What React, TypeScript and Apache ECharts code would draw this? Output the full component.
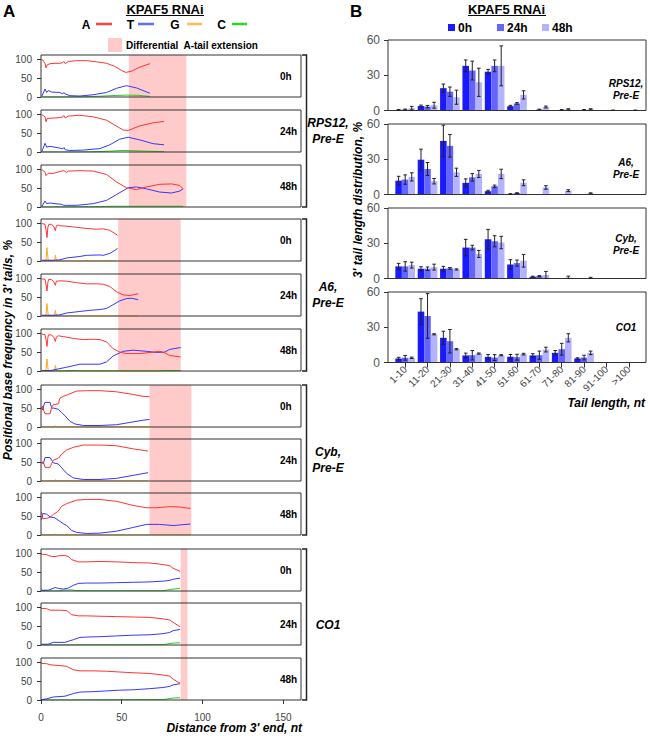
import React, { useEffect, useRef } from 'react';
import * as echarts from 'echarts';

const FONT = 'Liberation Sans, Arial, Helvetica, sans-serif';
const COL_A = '#ff3333';
const COL_T = '#3636ff';
const COL_G = '#ffaa22';
const COL_C = '#22cc22';
const PINK = '#ffcaca';
const BAR_COLS = ['#1a1aff', '#6464ff', '#b3b3ff'];

// ---------- Panel A: positional base frequency (x = nt from 3' end, y = %) ----------
const RPS12_0h_A = [[0.5,98],[1,98],[2.5,89],[3.1,77],[3.9,85],[5.6,88],[8.7,89],[11.7,89],[13.4,91],[14.2,94],[15,88],[16.9,94],[22,96],[28.2,96],[34.4,93],[40.6,89],[45.7,81],[49.9,70],[52.5,65],[56,68],[61.2,79],[67.4,88]];
const RPS12_0h_T = [[0.5,2],[2.5,21],[3.5,12],[4.5,17],[6.6,13],[11.7,12],[13.4,8],[14.2,12],[15,8],[17.9,3.5],[24.1,2.6],[32.3,6],[40.6,12],[46.8,23],[52.9,30],[59.1,24],[67.4,10]];
const RPS12_0h_C = [[0.5,0],[15,0],[26,0.5],[36,2],[46,4],[53,5],[60,4.5],[67.4,1.5]];
const RPS12_24h_A = [[0.5,99],[2.5,93],[3.1,80],[3.9,89],[5.6,89],[11.7,91],[13.4,93],[14.2,96],[15,90],[16.9,95],[24.1,97],[32.3,93],[40.6,84],[45.7,71],[50.9,58],[54,57],[61.2,69],[69.4,77],[76.2,81]];
const RPS12_24h_T = [[0.5,1],[2.5,23],[3.5,13],[5.6,15],[11.7,10.4],[13.4,8],[14.2,12],[15,6],[17.9,4],[26.2,5],[36.5,9],[42.6,19],[48.8,34],[54,39],[61.2,32],[69.4,22],[76.2,19]];
const RPS12_24h_C = [[0.5,0],[20,0],[30,0.5],[42,2],[50,4],[57,3.5],[66,2],[76.2,1]];
const RPS12_48h_A = [[0.5,99],[2.5,92],[3.1,83],[4.5,89],[7.6,89],[12.8,95],[14.2,96],[15.9,91],[16.9,95],[24.1,96],[32.3,95],[40.6,86],[46.8,66],[52.9,51],[59.1,46],[65.3,53],[73.5,60],[80.8,61],[85.9,57],[88,48]];
const RPS12_48h_T = [[0.5,1],[2.5,16],[3.5,9],[5.6,10.5],[12.8,7],[14.2,4.4],[15.9,4.4],[22,4.4],[32.3,8.8],[40.6,17.5],[46.8,33],[54,51],[59.1,53],[65.3,48],[73.5,39.5],[80.8,37],[85.9,42],[88,48]];
const RPS12_48h_C = [[0.5,0],[30,0.5],[40,1.5],[46,2],[88,2]];

const A6_0h_A = [[0.5,99],[2.5,97],[3.2,80],[3.7,62],[4.3,90],[4.8,97],[6.6,97],[8,90],[8.9,80],[9.5,93],[10.7,95],[11.7,93],[15.9,92],[22,89],[28.2,86],[34.4,84],[38.5,85],[42.6,81],[45.7,73],[47.4,68]];
const A6_0h_T = [[0.5,2],[7.6,2],[11.7,3],[15.9,8],[24.1,12],[28.2,15],[36.5,16],[38.5,15],[42.6,20],[45.7,28],[47.4,33]];
const A6_0h_G = [[0.5,0],[3,0],[3.7,35],[4.5,0],[8.3,0],[8.9,15],[9.6,0],[47.4,0]];
const A6_24h_A = [[0.5,98],[2.5,97],[3.2,80],[3.7,66],[4.3,90],[4.8,97],[6.6,96],[8,90],[8.9,81],[9.5,92],[11.7,93],[15.9,92],[22,88],[28.2,85],[34.4,85],[38.5,84],[42.6,78],[46.8,64],[50.9,56],[55,54],[60.2,59]];
const A6_24h_T = [[0.5,2],[8,2],[11.7,3],[15.9,8],[24.1,12],[30.3,15],[36.5,17],[40.6,20],[44.7,30],[48.8,40],[52.9,46],[56,47],[60.2,43]];
const A6_24h_G = [[0.5,0],[3,0],[3.7,33],[4.5,0],[8.3,0],[8.9,15],[9.6,0],[60.2,0]];
const A6_48h_A = [[0.5,98],[2.5,96],[3.2,80],[3.7,65],[4.3,90],[4.8,96],[6.6,95],[8,88],[8.9,78],[9.5,90],[10.7,93],[13.8,91],[20,86],[26.2,83],[32.3,84],[36.5,83],[40.6,77],[44.7,59],[48.8,50],[52.9,46],[61.2,46],[69.4,50],[73.5,52],[76.6,48],[79.7,41],[86.5,37]];
const A6_48h_T = [[0.5,1],[5.6,1],[15.9,10],[24.1,18],[32.3,18],[36.5,18],[40.6,24],[44.7,40],[50.9,52],[57.1,55],[65.3,52],[71.4,49],[76.6,50],[79.7,57],[86.5,62]];
const A6_48h_G = [[0.5,0],[3,0],[3.7,32],[4.5,0],[8.3,0],[8.9,15],[9.6,0],[86.5,0]];
const A6_48h_C = [[0.5,0],[15,0],[17,1],[22,1],[24,0],[73,0],[76,1],[86.5,1]];

const CYB_0h_A = [[0.3,47],[1,55],[1.8,42],[2.5,35],[5.6,35],[6.6,52],[7.6,59],[10.7,61],[11.7,76],[13.8,81],[16.9,86],[22,95],[28.2,96],[36.5,96],[46.8,93],[57.1,86],[63.2,81],[67.2,80]];
const CYB_0h_T = [[0.3,52],[1,45],[1.8,58],[2.5,65],[5.6,65],[6.6,50],[7.6,50],[10.7,47],[12.8,38],[14.8,30],[17.9,15],[21,8],[26.2,4],[36.5,4],[46.8,6],[55,12],[63.2,18],[67.2,20]];
const CYB_0h_G = [[0.3,0],[8,0],[9,3],[10,0],[15.4,0],[16.2,2],[17,0],[67.2,0]];
const CYB_24h_A = [[0.3,48],[1.4,51],[2.5,36],[5.6,36],[6.6,46],[7.6,55],[10.7,60],[12.8,71],[15.9,82],[20,89],[26.2,95],[36.5,95],[46.8,93],[57.1,85],[66.3,79]];
const CYB_24h_T = [[0.3,50],[1.4,45],[2.5,62],[5.6,62],[7.6,48],[10.7,45],[12.8,35],[15.9,20],[20,8],[26.2,4],[36.5,4],[46.8,7],[57.1,15],[66.3,22]];
const CYB_24h_G = [[0.3,0],[8,0],[9,3],[10,0],[15.4,0],[16.2,2],[17,0],[66.3,0]];
const CYB_48h_A = [[0.3,60],[1.2,43],[3.5,44],[5.6,47],[7.6,54],[10.7,63],[12.8,76],[15.9,83],[22,92],[28.2,94],[36.5,94],[46.8,89],[57.1,78],[65.3,72],[71.4,72],[79.7,75],[85.9,74],[92.5,70]];
const CYB_48h_T = [[0.3,40],[1.2,57],[3.5,55],[5.6,48],[8.7,45],[11.7,36],[13.8,30],[15.9,25],[19,12],[22,7],[28.2,4],[36.5,5],[46.8,10],[57.1,20],[65.3,28],[73.5,28],[81.8,25],[92.5,29]];
const CYB_48h_G = [[0.3,0],[8,0],[9,2],[10,0],[15.4,0],[16.2,1.5],[17,0],[92.5,0]];

const CO1_0h_A = [[0,98],[3.5,96],[4.5,94],[6.6,91],[8.7,91],[10.7,93],[14.8,94],[16.9,91],[19,83],[23.1,77],[28.2,77],[36.5,78],[46.8,77],[57.1,75],[67.4,74],[75.6,70],[79.7,67],[81.8,60],[86.1,52]];
const CO1_0h_T = [[0,2],[4.5,2],[8.7,9],[10.7,7],[13.8,5],[16.9,8],[20,15],[23.1,20],[28.2,21],[36.5,21],[46.8,22],[57.1,23],[67.4,24],[75.6,26],[79.7,28],[81.8,31],[86.1,34]];
const CO1_0h_C = [[0,0],[11,0],[13.8,2.5],[19,3],[22,1],[30,0.5],[75.6,0.5],[79.7,4],[86.1,7]];
const CO1_24h_A = [[0,97],[3.5,96],[5.6,92],[11.7,92],[15.9,91],[19,80],[23.1,77],[28.2,77],[36.5,76],[46.8,75],[57.1,74],[67.4,73],[75.6,69],[79.7,66],[81.8,60],[86.1,48]];
const CO1_24h_T = [[0,2],[4.5,2],[7.6,7],[14.8,7],[20,14],[24.1,20],[28.2,21],[36.5,22],[46.8,24],[57.1,26],[67.4,27],[75.6,30],[79.7,33],[81.8,38],[86.1,41]];
const CO1_24h_C = [[0,0],[11.7,0],[12,1],[75.6,1],[81.8,5],[86.1,6]];
const CO1_48h_A = [[0,97],[3.5,96],[5.6,93],[11.7,91],[15.9,89],[20,80],[24.1,77],[32.3,77],[40.6,76],[48.8,74],[57.1,72],[67.4,70],[75.6,66],[79.7,63],[81.8,55],[84.9,47],[86.1,45]];
const CO1_48h_T = [[0,1],[3.5,3],[7.6,8],[14.8,10],[20,17],[24.1,21],[32.3,22],[40.6,24],[48.8,26],[57.1,27],[67.4,30],[75.6,33],[79.7,36],[81.8,40],[86.1,43]];
const CO1_48h_C = [[0,0],[11.7,0],[12,1],[75.6,1],[81.8,5],[86.1,6]];

// Differential A-tail extension ranges (nt)
const PINK_RANGES = [[54.4, 90], [47.8, 86.5], [67.2, 93.1], [86.5, 90.7]];

const TIMES = ['0h', '24h', '48h'];
const GENE_LABELS_A = ['RPS12,\nPre-E', 'A6,\nPre-E', 'Cyb,\nPre-E', 'CO1'];

// ---------- Panel B: 3' tail length distribution ----------
const TAIL_CATS = ['1-10', '11-20', '21-30', '31-40', '41-50', '51-60', '61-70', '71-80', '81-90', '91-100', '>100'];
const RPS12_B_0h = [0.5, 3.8, 19, 38, 33, 3.7, 0.3, 0.3, 0.3, 0, 0];
const RPS12_B_0h_err = [0.3, 0.8, 3.5, 5, 2, 0.7, 0, 0, 0, 0, 0];
const RPS12_B_24h = [0.8, 3.3, 16, 34, 38, 6, 0.8, 0.5, 0.5, 0.2, 0];
const RPS12_B_24h_err = [0.4, 1, 4, 8, 5, 0.7, 0.3, 0.3, 0.3, 0, 0];
const RPS12_B_48h = [2, 4.5, 11.3, 24, 38, 13.3, 3, 1, 1, 0.2, 0.2];
const RPS12_B_48h_err = [1.5, 2.5, 6, 12, 17, 3.5, 0.8, 0.5, 0.5, 0.1, 0.1];

const A6_B_0h = [11.8, 29.6, 45.6, 9.9, 2.8, 0.5, 0.2, 0.2, 0.3, 0, 0];
const A6_B_0h_err = [3.7, 9, 13.4, 3.4, 0.8, 0.2, 0, 0, 0, 0, 0];
const A6_B_24h = [12.7, 21.7, 41.4, 14.6, 7, 1.2, 0.3, 0.2, 0.3, 0, 0];
const A6_B_24h_err = [4, 5.5, 9.6, 3.2, 1, 0.3, 0, 0, 0, 0, 0];
const A6_B_48h = [15, 11.3, 18.9, 17.5, 17.5, 10, 6, 3.3, 1, 0.2, 0.2];
const A6_B_48h_err = [3.5, 2.3, 3.5, 3, 4, 2.5, 1.5, 0.8, 0.4, 0, 0];

const CYB_B_0h = [10.3, 8.3, 8.3, 26.3, 33.4, 12, 1.5, 0.2, 0, 0, 0];
const CYB_B_0h_err = [2.6, 1.7, 2, 7, 8.4, 4, 0.5, 0, 0, 0, 0];
const CYB_B_24h = [10.3, 8.3, 8.6, 26.3, 31.7, 13.1, 2, 0.3, 0, 0, 0];
const CYB_B_24h_err = [4, 1.5, 0.7, 2, 4.7, 2.6, 0.5, 0, 0, 0, 0];
const CYB_B_48h = [11.4, 9.7, 7.7, 20.9, 30.6, 15.1, 3, 0.8, 0.5, 0.3, 0.2];
const CYB_B_48h_err = [2.5, 2.5, 0.5, 3, 5.3, 5.4, 3, 1.2, 0.5, 0, 0];

const CO1_B_0h = [3.4, 43.3, 21, 6, 4.8, 4.8, 6, 8.2, 3.4, 0, 0];
const CO1_B_0h_err = [1, 11, 5.6, 2, 2, 2, 1.5, 2, 0.6, 0, 0];
const CO1_B_24h = [4, 39.6, 18.1, 6.2, 4.2, 4.5, 6.2, 11.3, 4.2, 0, 0];
const CO1_B_24h_err = [2, 19, 10, 4, 2.5, 2.5, 3.5, 5, 2, 0, 0];
const CO1_B_48h = [4, 24, 11.3, 7.6, 6.2, 7.1, 11, 21, 8.2, 0, 0];
const CO1_B_48h_err = [0.6, 0.5, 0.5, 0.5, 0.5, 0.7, 2, 3.5, 1.5, 0, 0];

// ---------- layout ----------
const A_LEFT = 41;
const A_W = 260;
const A_H = 42;
const A_XMAX = 161;
const A_TOPS = [55, 110, 165, 219, 274, 329, 385, 439, 493, 549, 603, 658];
const GROUP_SPANS = [[55, 207], [219, 371], [385, 535], [549, 700]];
const B_LEFT = 388;
const B_W = 258;
const B_H = 70.5;
const B_TOPS = [40, 124, 208, 292];
const B_PAD = 6;
const BAR_GAP_FRAC = 0.12;

export default function App() {
  const ref = useRef<HTMLDivElement>(null);

  useEffect(() => {
    if (!ref.current) return;
    const chart = echarts.init(ref.current, undefined, { renderer: 'svg' });

    const aPanels = [
      { A: RPS12_0h_A, T: RPS12_0h_T, G: null, C: RPS12_0h_C },
      { A: RPS12_24h_A, T: RPS12_24h_T, G: null, C: RPS12_24h_C },
      { A: RPS12_48h_A, T: RPS12_48h_T, G: null, C: RPS12_48h_C },
      { A: A6_0h_A, T: A6_0h_T, G: A6_0h_G, C: null },
      { A: A6_24h_A, T: A6_24h_T, G: A6_24h_G, C: null },
      { A: A6_48h_A, T: A6_48h_T, G: A6_48h_G, C: A6_48h_C },
      { A: CYB_0h_A, T: CYB_0h_T, G: CYB_0h_G, C: null },
      { A: CYB_24h_A, T: CYB_24h_T, G: CYB_24h_G, C: null },
      { A: CYB_48h_A, T: CYB_48h_T, G: CYB_48h_G, C: null },
      { A: CO1_0h_A, T: CO1_0h_T, G: null, C: CO1_0h_C },
      { A: CO1_24h_A, T: CO1_24h_T, G: null, C: CO1_24h_C },
      { A: CO1_48h_A, T: CO1_48h_T, G: null, C: CO1_48h_C },
    ];

    const bPanels = [
      { vals: [RPS12_B_0h, RPS12_B_24h, RPS12_B_48h], errs: [RPS12_B_0h_err, RPS12_B_24h_err, RPS12_B_48h_err], label: 'RPS12,\nPre-E', ly: 89.5 },
      { vals: [A6_B_0h, A6_B_24h, A6_B_48h], errs: [A6_B_0h_err, A6_B_24h_err, A6_B_48h_err], label: 'A6,\nPre-E', ly: 168 },
      { vals: [CYB_B_0h, CYB_B_24h, CYB_B_48h], errs: [CYB_B_0h_err, CYB_B_24h_err, CYB_B_48h_err], label: 'Cyb,\nPre-E', ly: 244.5 },
      { vals: [CO1_B_0h, CO1_B_24h, CO1_B_48h], errs: [CO1_B_0h_err, CO1_B_24h_err, CO1_B_48h_err], label: 'CO1', ly: 327 },
    ];

    const grid: any[] = [];
    const xAxis: any[] = [];
    const yAxis: any[] = [];
    const series: any[] = [];
    const elements: any[] = [];

    const txt = (x: number, y: number, text: string, o: any = {}) => ({
      type: 'text', x, y, z: 20, rotation: o.rotation || 0,
      style: {
        text, fill: o.fill || '#000', fontFamily: FONT, fontSize: o.size || 12,
        fontWeight: o.weight || 'bold', fontStyle: o.italic ? 'italic' : 'normal',
        align: o.align || 'left', verticalAlign: o.valign || 'middle', lineHeight: o.lh || 14,
      },
    });

    // ---- Panel A grids ----
    aPanels.forEach((p, i) => {
      const gi = grid.length;
      const bottom = i === aPanels.length - 1;
      grid.push({ left: A_LEFT, top: A_TOPS[i], width: A_W, height: A_H, show: true, borderColor: '#333', borderWidth: 1, z: 3, backgroundColor: 'rgba(0,0,0,0)' });
      xAxis.push({
        type: 'value', gridIndex: gi, min: 0, max: A_XMAX, interval: 50,
        axisLine: { show: false }, splitLine: { show: false },
        axisTick: { show: bottom, length: 4, customValues: [0, 50, 100, 150], lineStyle: { color: '#333' } },
        axisLabel: { show: bottom, customValues: [0, 50, 100, 150], color: '#444', fontSize: 10, margin: 12, fontFamily: FONT,
          formatter: (v: number) => (v % 50 === 0 ? String(v) : '') },
      });
      yAxis.push({
        type: 'value', gridIndex: gi, min: 0, max: 111, interval: 50,
        axisLine: { show: false }, splitLine: { show: false },
        axisTick: { show: true, length: 4, customValues: [0, 50, 100], lineStyle: { color: '#333' } },
        axisLabel: { customValues: [0, 50, 100], color: '#444', fontSize: 10, margin: 9, fontFamily: FONT,
          formatter: (v: number) => (v % 50 === 0 ? String(v) : '') },
      });
      const add = (data: any, color: string) => {
        if (!data) return;
        series.push({ type: 'line', xAxisIndex: gi, yAxisIndex: gi, data, symbol: 'none', showSymbol: false, silent: true, z: 2,
          lineStyle: { width: 1, color }, itemStyle: { color } });
      };
      add(p.G, COL_G);
      add(p.C, COL_C);
      add(p.T, COL_T);
      add(p.A, COL_A);
      elements.push(txt(280, A_TOPS[i] + A_H / 2, TIMES[i % 3], { size: 10 }));
    });

    // ---- Pink overlay grids for A ----
    GROUP_SPANS.forEach((span, g) => {
      const gi = grid.length;
      grid.push({ left: A_LEFT, top: span[0], width: A_W, height: span[1] - span[0], show: false });
      xAxis.push({ type: 'value', gridIndex: gi, min: 0, max: A_XMAX, show: false });
      yAxis.push({ type: 'value', gridIndex: gi, min: 0, max: 1, show: false });
      const r = PINK_RANGES[g];
      series.push({
        type: 'custom', xAxisIndex: gi, yAxisIndex: gi, z: 1, silent: true,
        data: [[r[0], r[1], 0, 1]], encode: { x: [0, 1], y: [2, 3] },
        renderItem: (params: any, api: any) => {
          const p0 = api.coord([api.value(0), api.value(3)]);
          const p1 = api.coord([api.value(1), api.value(2)]);
          return { type: 'rect', shape: { x: p0[0], y: p0[1], width: p1[0] - p0[0], height: p1[1] - p0[1] }, style: { fill: PINK } };
        },
      });
      // bracket and gene label
      elements.push({ type: 'polyline', z: 20, shape: { points: [[302, span[0]], [306.5, span[0]], [306.5, span[1]], [302, span[1]]] }, style: { stroke: '#222', lineWidth: 1.5, fill: null } });
      elements.push(txt(328, (span[0] + span[1]) / 2, GENE_LABELS_A[g], { italic: true, size: 12, align: 'center', lh: 16 }));
    });

    // ---- Panel B ----
    const errRender = (k: number) => (params: any, api: any) => {
      const i = api.value(0), v = api.value(1), e = api.value(2);
      if (!e) return null;
      const band = api.size([1, 0])[0];
      const bw = (band * (1 - BAR_GAP_FRAC)) / 3;
      const x = api.coord([i, v])[0] + (k - 1) * bw;
      const y1 = api.coord([i, v + e])[1];
      const y2 = api.coord([i, Math.max(0, v - e)])[1];
      const style = { stroke: '#222', lineWidth: 1 };
      return {
        type: 'group',
        children: [
          { type: 'line', shape: { x1: x, y1, x2: x, y2 }, style },
          { type: 'line', shape: { x1: x - 1.8, y1, x2: x + 1.8, y2: y1 }, style },
          { type: 'line', shape: { x1: x - 1.8, y1: y2, x2: x + 1.8, y2 }, style },
        ],
      };
    };

    bPanels.forEach((p, b) => {
      const bottom = b === bPanels.length - 1;
      // frame grid
      const fi = grid.length;
      grid.push({ left: B_LEFT, top: B_TOPS[b], width: B_W, height: B_H, show: true, borderColor: '#333', borderWidth: 1, z: 3, backgroundColor: 'rgba(0,0,0,0)' });
      xAxis.push({ type: 'value', gridIndex: fi, min: 0, max: 1, show: false });
      yAxis.push({
        type: 'value', gridIndex: fi, min: 0, max: 60, interval: 30,
        axisLine: { show: false }, splitLine: { show: false },
        axisTick: { show: true, length: 4, lineStyle: { color: '#333' } },
        axisLabel: { color: '#555', fontSize: 12, margin: 8, fontFamily: FONT },
      });
      // data grid
      const di = grid.length;
      grid.push({ left: B_LEFT + B_PAD, top: B_TOPS[b], width: B_W - 2 * B_PAD, height: B_H, show: false });
      xAxis.push({
        type: 'category', gridIndex: di, data: TAIL_CATS, boundaryGap: true,
        axisLine: { show: false }, splitLine: { show: false },
        axisTick: { show: bottom, alignWithLabel: true, length: 5, lineStyle: { color: '#333' } },
        axisLabel: { show: bottom, rotate: 45, interval: 0, fontSize: 10, color: '#444', margin: 5, fontFamily: FONT },
      });
      yAxis.push({ type: 'value', gridIndex: di, min: 0, max: 60, show: false });
      p.vals.forEach((vals, k) => {
        series.push({
          type: 'bar', name: TIMES[k], xAxisIndex: di, yAxisIndex: di, data: vals, silent: true, z: 2,
          itemStyle: { color: BAR_COLS[k] }, barGap: '0%', barCategoryGap: `${BAR_GAP_FRAC * 100}%`,
        });
      });
      p.vals.forEach((vals, k) => {
        series.push({
          type: 'custom', xAxisIndex: di, yAxisIndex: di, z: 4, silent: true,
          data: vals.map((v, i) => [i, v, p.errs[k][i]]), encode: { x: 0, y: 1 },
          renderItem: errRender(k),
        });
      });
      elements.push(txt(626, p.ly, p.label, { italic: true, size: 10, align: 'center', lh: 12 }));
    });

    // ---- Titles, legends, axis titles ----
    elements.push(txt(3, 11, 'A', { size: 17 }));
    elements.push(txt(350, 11, 'B', { size: 17 }));
    elements.push(txt(165, 9.5, 'KPAF5 RNAi', { size: 13, align: 'center' }));
    elements.push({ type: 'line', z: 20, shape: { x1: 126, y1: 15.5, x2: 204, y2: 15.5 }, style: { stroke: '#000', lineWidth: 1 } });
    elements.push(txt(506.5, 9.5, 'KPAF5 RNAi', { size: 13, align: 'center' }));
    elements.push({ type: 'line', z: 20, shape: { x1: 468, y1: 15.5, x2: 546, y2: 15.5 }, style: { stroke: '#000', lineWidth: 1 } });

    const legA = [
      { t: 'A', tx: 86, x1: 96, x2: 112, c: '#ff4040' },
      { t: 'T', tx: 130.5, x1: 138, x2: 154, c: '#5c70ff' },
      { t: 'G', tx: 175, x1: 187, x2: 202, c: '#ffbb55' },
      { t: 'C', tx: 221.5, x1: 232, x2: 247, c: '#22dd22' },
    ];
    legA.forEach((l) => {
      elements.push(txt(l.tx, 24.5, l.t, { size: 12, align: 'center' }));
      elements.push({ type: 'line', z: 20, shape: { x1: l.x1, y1: 24, x2: l.x2, y2: 24 }, style: { stroke: l.c, lineWidth: 2.5 } });
    });
    elements.push({ type: 'rect', z: 20, shape: { x: 108, y: 38, width: 14, height: 14 }, style: { fill: PINK } });
    elements.push(txt(126, 45.5, 'Differential  A-tail extension', { size: 10 }));

    const legB = [{ x: 448, tx: 458 }, { x: 497, tx: 507 }, { x: 542, tx: 552 }];
    legB.forEach((l, k) => {
      elements.push({ type: 'rect', z: 20, shape: { x: l.x, y: 24, width: 7, height: 7 }, style: { fill: BAR_COLS[k] } });
      elements.push(txt(l.tx, 28, TIMES[k], { size: 12 }));
    });

    elements.push(txt(8, 350, "Positional base frequency in 3' tails, %", { italic: true, size: 12, align: 'center', rotation: Math.PI / 2 }));
    elements.push(txt(302, 728, "Distance from 3' end, nt", { italic: true, size: 12, align: 'right' }));
    elements.push(txt(358, 200, "3' tail length distribution, %", { italic: true, size: 12, align: 'center', rotation: Math.PI / 2 }));
    elements.push(txt(645, 403, 'Tail length, nt', { italic: true, size: 12, align: 'right' }));

    chart.setOption({
      animation: false,
      textStyle: { fontFamily: FONT },
      grid, xAxis, yAxis, series,
      graphic: { elements },
    });

    return () => chart.dispose();
  }, []);

  return <div ref={ref} style={{ position: 'absolute', left: 0, top: 0, width: 650, height: 736, background: '#fff' }} />;
}
